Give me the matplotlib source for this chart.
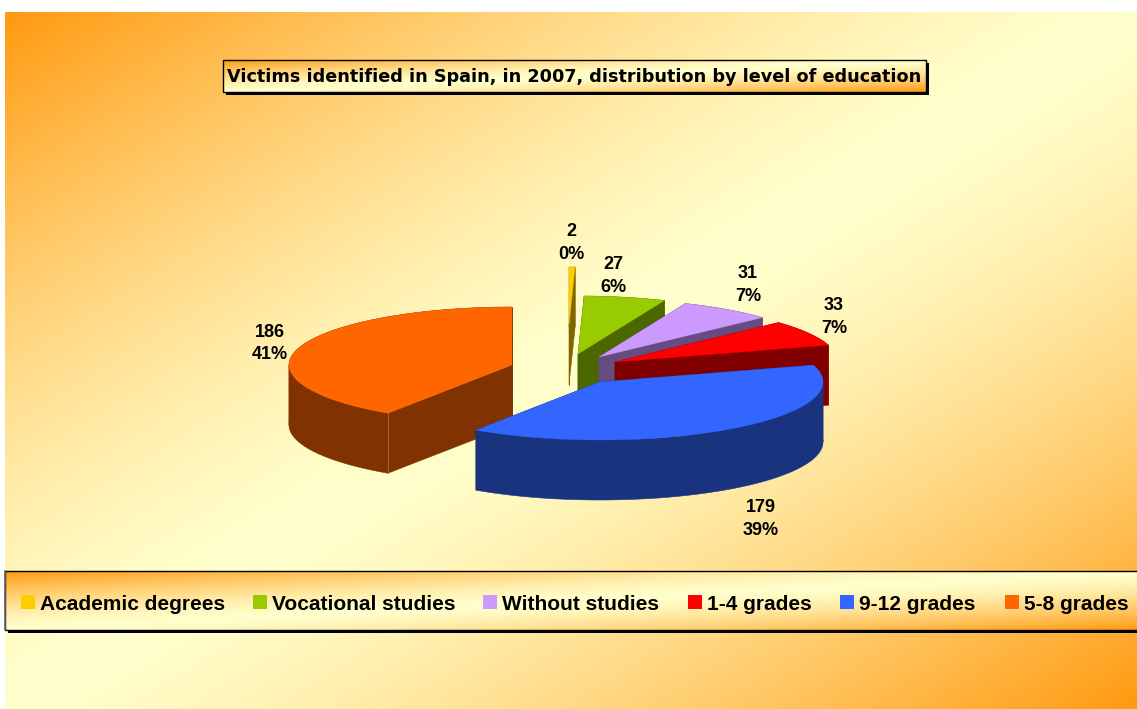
import numpy as np
import matplotlib
matplotlib.use("Agg")
import matplotlib.pyplot as plt
from matplotlib.colors import LinearSegmentedColormap
from matplotlib.patches import Polygon, Rectangle

# ---------DATA---------
categories = ["Academic degrees", "Vocational studies", "Without studies",
              "1-4 grades", "9-12 grades", "5-8 grades"]
values = [2, 27, 31, 33, 179, 186]
title = "Victims identified in Spain, in 2007, distribution by level of education"

top_colors = ["#FFCC00", "#99CC00", "#CC99FF", "#FF0000", "#3366FF", "#FF6600"]
side_colors = ["#806600", "#4C6600", "#664C80", "#800000", "#19337F", "#803300"]

# ---------LAYOUT (pixels)---------
W, H = 1137, 709
RX, RY, DEPTH = 223, 58, 60
apex_x = [569, 578, 599, 615, 600, 512]
apex_y = [325, 354, 357, 362, 382, 365]
label_x = [571, 613, 748, 834, 761, 270]
label_y = [243, 276, 285, 317, 519, 343.5]
draw_order = [0, 1, 2, 3, 5, 4]  # blue sits in front of everything
legend_marker_x = [21, 253, 483, 688, 840, 1005]

fig = plt.figure(figsize=(W / 100, H / 100), dpi=100, facecolor="white")
ax = fig.add_axes([0, 0, 1, 1])
cmap = LinearSegmentedColormap.from_list("bg", ["#FFFFCC", "#FF9A10"])


def gradient_box(x0, y0, x1, y1, zorder):
    """Diagonal gradient: orange in two opposite corners, pale in the middle."""
    u, v = np.meshgrid(np.linspace(0, 1, 400), np.linspace(0, 1, 300))
    ax.imshow(np.abs(u + v - 1) ** 1.4, extent=(x0, x1, y1, y0), cmap=cmap, vmin=0, vmax=1,
              aspect="auto", zorder=zorder, interpolation="bilinear")


def ellipse_arc(cx, cy, a0, a1):
    """Points on the pie rim, angles in degrees clockwise from the top."""
    t = np.radians(np.linspace(a0, a1, 120))
    return np.column_stack([cx + RX * np.sin(t), cy - RY * np.cos(t)])


def framed_box(x0, y0, x1, y1, zorder):
    ax.add_patch(Rectangle((x0 + 3, y0 + 3), x1 - x0, y1 - y0, fc="black", ec="none", zorder=zorder))
    gradient_box(x0, y0, x1, y1, zorder + 0.1)
    ax.add_patch(Rectangle((x0, y0), x1 - x0, y1 - y0, fc="none", ec="black", lw=1, zorder=zorder + 0.2))


# ---------BACKGROUND---------
gradient_box(5, 12, W, H, 0)

# ---------PIE---------
total = sum(values)
edges = np.cumsum([0] + values) / total * 360
z = 2
for i in draw_order:
    a0, a1 = edges[i], edges[i + 1]
    cx, cy = apex_x[i], apex_y[i]
    rim = ellipse_arc(cx, cy, a0, a1)
    down = np.array([0, DEPTH])
    start, end = rim[0], rim[-1]
    apex = np.array([cx, cy])

    for face in ([apex, start, start + down, apex + down],
                 [apex, end, end + down, apex + down]):
        ax.add_patch(Polygon(face, fc=side_colors[i], ec=side_colors[i], lw=0.4, zorder=z))
    # outer wall, split where the rim turns back so the outline never folds over itself
    stops = [a0] + [a for a in (90, 270) if a0 < a < a1] + [a1]
    for s0, s1 in zip(stops[:-1], stops[1:]):
        part = ellipse_arc(cx, cy, s0, s1)
        wall = np.vstack([part, (part + down)[::-1]])
        ax.add_patch(Polygon(wall, fc=side_colors[i], ec=side_colors[i], lw=0.4, zorder=z))
    top = np.vstack([apex, rim])
    ax.add_patch(Polygon(top, fc=top_colors[i], ec=top_colors[i], lw=0.2, zorder=z + 0.1))
    z += 1

# faint seam on the front corner of the big orange slice
corner = ellipse_arc(apex_x[5], apex_y[5], edges[5], edges[5])[0]
ax.plot([corner[0]] * 2, [corner[1], corner[1] + DEPTH], color="#A8622C", lw=0.7, zorder=z)

# ---------DATA LABELS---------
for i, v in enumerate(values):
    ax.text(label_x[i], label_y[i], f"{v}\n{round(100 * v / total)}%", ha="center", va="center",
            family="Liberation Sans", weight="bold", fontsize=13, linespacing=1.4, color="black", zorder=20)

# ---------TITLE---------
framed_box(222.5, 60, 926, 92, 21)
ax.text(574.5, 76.5, title, ha="center", va="center", family="DejaVu Sans", weight="bold",
        fontsize=12.7, color="black", zorder=22)

# ---------LEGEND---------
framed_box(5, 571, W + 5, 630, 21)
ax.plot([5, 5], [571, 630], color="#666666", lw=1.2, zorder=22)
for i, name in enumerate(categories):
    mx = legend_marker_x[i]
    ax.add_patch(Rectangle((mx, 595), 14, 14, fc=top_colors[i], ec="none", zorder=22))
    ax.text(mx + 19, 604.5, name, ha="left", va="center", family="Liberation Sans", weight="bold",
            fontsize=15, color="black", zorder=22)

ax.set_xlim(0, W)
ax.set_ylim(H, 0)
ax.axis("off")
fig.savefig("out.png", dpi=100)
